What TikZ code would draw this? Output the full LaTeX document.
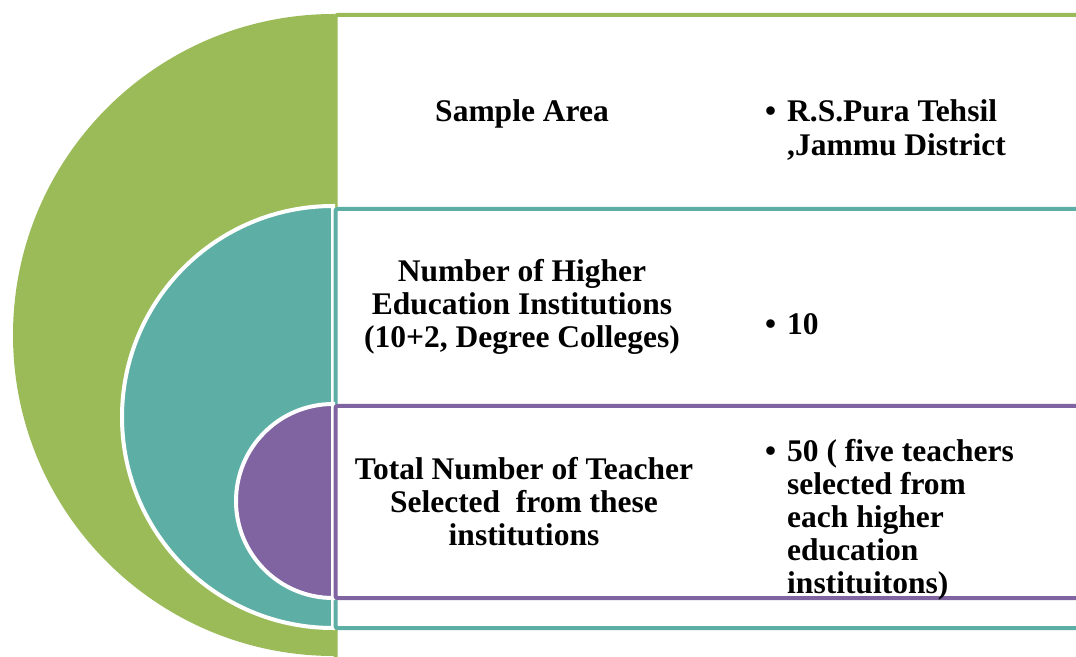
\documentclass[tikz,border=0pt]{standalone}
\usepackage{fontspec}
\setmainfont{Liberation Serif}
\definecolor{cgreen}{HTML}{9BBB59}
\definecolor{cteal}{HTML}{5DAFA6}
\definecolor{cpurple}{HTML}{8064A2}
\newcommand{\mytxt}{\fontsize{31.5}{33}\selectfont\bfseries}
\begin{document}
\begin{tikzpicture}[x=1pt,y=1pt,
  halfdisk/.style={draw=white,line width=4pt},
  panel/.style={fill=white,line width=4pt,rounded corners=2pt},
  label/.style={inner sep=0pt,align=center,font=\mytxt},
  item/.style={inner sep=0pt,anchor=west,font=\mytxt}]
\useasboundingbox (0,0) rectangle (1076,656);
% half discs
\fill[cgreen] (334,642) arc[start angle=90,end angle=270,radius=321] -- cycle;
% panels
\draw[panel,draw=cgreen] (335.5,-20) rectangle (1100,641);
\draw[halfdisk,fill=cteal] (333,450) arc[start angle=90,end angle=270,radius=211] -- cycle;
\draw[panel,draw=cteal] (335.5,28) rectangle (1100,447);
\draw[halfdisk,fill=cpurple] (333,252) arc[start angle=90,end angle=270,radius=97] -- cycle;
\draw[panel,draw=cpurple] (335.5,58) rectangle (1100,250);
% texts
\node[label] (a1) at (522,542) {Sample Area};
\node[label] (b1) at (522,349) {Number of Higher\\Education Institutions\\(10+2, Degree Colleges)};
\node[label] (c1) at (524,154) {Total Number of Teacher\\Selected~ from these\\institutions};
\node[item] (a2) at (765,524) {\begin{tabular}{@{}l@{\hspace{11pt}}l@{}}\textbullet & R.S.Pura Tehsil\\[1.5pt] & ,Jammu District\end{tabular}};
\node[item] (b2) at (765,328) {\begin{tabular}{@{}l@{\hspace{11pt}}l@{}}\textbullet & 10\end{tabular}};
\node[item] (c2) at (765,135) {\begin{tabular}{@{}l@{\hspace{11pt}}l@{}}\textbullet & 50 ( five teachers\\ & selected from\\ & each higher\\ & education\\ & instituitons)\end{tabular}};
\end{tikzpicture}
\end{document}
